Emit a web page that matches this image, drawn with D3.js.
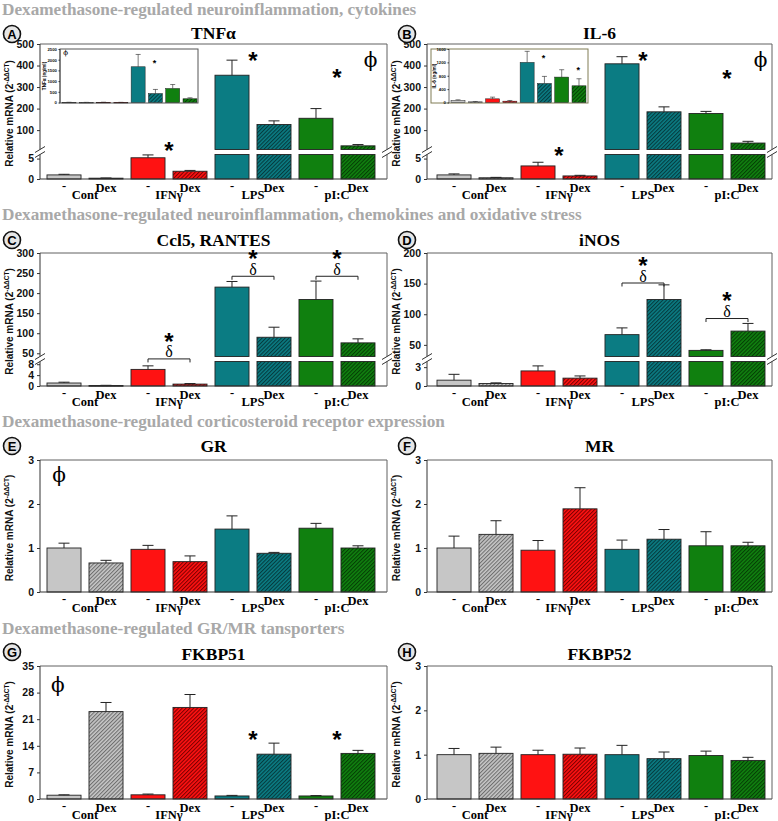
<!DOCTYPE html>
<html>
<head>
<meta charset="utf-8">
<script src="https://cdn.jsdelivr.net/npm/d3@7/dist/d3.min.js"></script>
<style>
  body { margin: 0; background: #fff; }
</style>
</head>
<body>
<svg id="canvas"></svg>
<script>
// ---- data ----
const groups = ["Cont", "IFNγ", "LPS", "pI:C"];
const treatments = ["-", "Dex"];
const groupColors = ["#c6c6c6", "#ff1212", "#0b7c83", "#10800f"];
const hatchColors = ["#6e6e6e", "#7a0000", "#053a3d", "#053f05"];

const sections = [
  "Dexamethasone-regulated neuroinflammation, cytokines",
  "Dexamethasone-regulated neuroinflammation, chemokines and oxidative stress",
  "Dexamethasone-regulated corticosteroid receptor expression",
  "Dexamethasone-regulated GR/MR tansporters"
];

// bar order: Cont -, Cont Dex, IFNγ -, IFNγ Dex, LPS -, LPS Dex, pI:C -, pI:C Dex
const tnfMean = [1.0, 0.2, 5.2, 1.9, 355, 126, 155, 27];
const tnfSem = [0.15, 0.05, 0.7, 0.2, 70, 17, 45, 6];
const il6Mean = [1.0, 0.3, 3.2, 0.75, 408, 185, 177, 40];
const il6Sem = [0.25, 0.1, 0.9, 0.15, 33, 23, 10, 8];
const ccl5Mean = [1.1, 0.2, 6.1, 0.7, 215, 90, 184, 76];
const ccl5Sem = [0.3, 0.05, 1.3, 0.2, 14, 25, 46, 10];
const inosMean = [0.93, 0.4, 2.4, 1.25, 66.7, 124, 41, 72.5];
const inosSem = [0.93, 0.1, 0.8, 0.35, 11, 24, 1, 12.5];
const grMean = [1.0, 0.66, 0.97, 0.69, 1.43, 0.88, 1.45, 1.0];
const grSem = [0.11, 0.06, 0.09, 0.13, 0.3, 0.02, 0.11, 0.05];
const mrMean = [1.0, 1.31, 0.95, 1.89, 0.97, 1.2, 1.05, 1.05];
const mrSem = [0.27, 0.31, 0.22, 0.48, 0.21, 0.22, 0.32, 0.08];
const fkbp51Mean = [1.0, 23, 1.1, 24.1, 0.8, 11.8, 0.8, 12];
const fkbp51Sem = [0.1, 2.4, 0.2, 3.4, 0.15, 2.9, 0.1, 0.8];
const fkbp52Mean = [1.0, 1.03, 1.0, 1.01, 1.0, 0.91, 0.98, 0.87];
const fkbp52Sem = [0.14, 0.14, 0.1, 0.14, 0.21, 0.15, 0.1, 0.07];

// protein insets (ng/ml)
const tnfInsetMean = [8, 5, 10, 6, 1670, 420, 655, 175];
const tnfInsetSem = [3, 2, 4, 2, 575, 190, 185, 45];
const il6InsetMean = [60, 20, 110, 40, 1200, 570, 760, 500];
const il6InsetSem = [20, 10, 50, 20, 330, 210, 220, 210];

// tick values
const cytokineUpperTicks = [100, 200, 300, 400, 500];
const cytokineLowerTicks = [0, 5];
const ccl5UpperTicks = [50, 100, 150, 200, 250, 300];
const ccl5LowerTicks = [0, 4, 8];
const inosUpperTicks = [50, 100, 150, 200];
const inosLowerTicks = [0, 3];
const receptorTicks = [0, 1, 2, 3];
const fkbp51Ticks = [0, 7, 14, 21, 28, 35];
const tnfInsetTicks = [0, 500, 1000, 1500, 2000, 2500];
const il6InsetTicks = [0, 400, 800, 1200, 1600];

// annotations: [bar position, value]
const tnfStars = [[2.5, 29], [4.5, 449], [6.5, 369]];
const il6Stars = [[2.5, 7], [4.5, 449], [6.5, 365]];
const ccl5Brackets = [[2, 3, 36], [4, 5, 242], [6, 7, 242]];
const inosBrackets = [[4, 5, 151], [6, 7, 93]];
const fkbp51Stars = [[4.5, 17.1], [6.5, 17.1]];

// ---- layout ----
const W = 778, H = 821;
const SERIF = "'Liberation Serif', 'Times New Roman', serif";
const SANS = "'Liberation Sans', Arial, sans-serif";
const cols = [
  { left: 40, right: 387, barL: 47, barR: 375, labelX: 13 },
  { left: 427, right: 772, barL: 437, barR: 765, labelX: 400 }
];
const rows = [
  { top: 44, bottom: 179, title: 38.5, circle: 34, section: 14.5 },
  { top: 253, bottom: 386, title: 245.5, circle: 240, section: 219.5 },
  { top: 460, bottom: 592, title: 452, circle: 446, section: 427 },
  { top: 666, bottom: 799, title: 660, circle: 652, section: 633.5 }
];
const lowerH = 24.5, gap = 5;

const panels = [
  { key: "A", title: "TNFα", col: 0, row: 0, mean: tnfMean, sem: tnfSem,
    upper: [10, 500], lower: [0, 6], upperTicks: cytokineUpperTicks, lowerTicks: cytokineLowerTicks,
    stars: tnfStars, phi: [7.3, 416],
    inset: { mean: tnfInsetMean, sem: tnfInsetSem, domain: [0, 2500], ticks: tnfInsetTicks,
             box: [60, 198, 49, 103], axisX: 60, barL: 62, barR: 197, label: "TNFα (ng/ml)", labelX: 46,
             stroke: "#555", stars: [[4.95, 1950]], phi: [-0.2, 2300] } },
  { key: "B", title: "IL-6", col: 1, row: 0, mean: il6Mean, sem: il6Sem,
    upper: [10, 500], lower: [0, 6], upperTicks: cytokineUpperTicks, lowerTicks: cytokineLowerTicks,
    stars: il6Stars, phi: [7.3, 416],
    inset: { mean: il6InsetMean, sem: il6InsetSem, domain: [0, 1600], ticks: il6InsetTicks,
             box: [431, 588, 49, 103], axisX: 449, barL: 451, barR: 586, label: "IL-6 (ng/ml)", labelX: 436,
             stroke: "#807c55", stars: [[4.95, 1380], [6.95, 1030]] } },
  { key: "C", title: "Ccl5, RANTES", col: 0, row: 1, mean: ccl5Mean, sem: ccl5Sem,
    upper: [42, 300], lower: [0, 9], upperTicks: ccl5UpperTicks, lowerTicks: ccl5LowerTicks,
    brackets: ccl5Brackets },
  { key: "D", title: "iNOS", col: 1, row: 1, mean: inosMean, sem: inosSem,
    upper: [31, 200], lower: [0, 3.9], upperTicks: inosUpperTicks, lowerTicks: inosLowerTicks,
    brackets: inosBrackets },
  { key: "E", title: "GR", col: 0, row: 2, mean: grMean, sem: grSem,
    domain: [0, 3], ticks: receptorTicks, phi: [-0.12, 2.61] },
  { key: "F", title: "MR", col: 1, row: 2, mean: mrMean, sem: mrSem,
    domain: [0, 3], ticks: receptorTicks },
  { key: "G", title: "FKBP51", col: 0, row: 3, mean: fkbp51Mean, sem: fkbp51Sem,
    domain: [0, 35], ticks: fkbp51Ticks, stars: fkbp51Stars, phi: [-0.15, 29.5] },
  { key: "H", title: "FKBP52", col: 1, row: 3, mean: fkbp52Mean, sem: fkbp52Sem,
    domain: [0, 3], ticks: receptorTicks }
];

const svg = d3.select("#canvas").attr("width", W).attr("height", H)
  .style("font-family", SANS);
svg.append("rect").attr("width", W).attr("height", H).attr("fill", "#fff");

// hatch patterns for the Dex bars
const defs = svg.append("defs");
groupColors.forEach((c, i) => {
  const s = 2.7;
  const p = defs.append("pattern")
    .attr("id", "hatch" + i)
    .attr("patternUnits", "userSpaceOnUse")
    .attr("width", s).attr("height", s)
    .attr("patternTransform", "rotate(45)");
  p.append("rect").attr("width", s).attr("height", s).attr("fill", c);
  p.append("line").attr("x1", 0.5).attr("x2", 0.5).attr("y1", 0).attr("y2", s)
    .attr("stroke", hatchColors[i]).attr("stroke-width", 1.1);
});
const fillFor = i => i % 2 ? `url(#hatch${Math.floor(i / 2)})` : groupColors[Math.floor(i / 2)];

// section headings
rows.forEach((r, i) => {
  svg.append("text")
    .attr("x", 2).attr("y", r.section)
    .style("font-family", SERIF)
    .attr("font-size", 17.2).attr("font-weight", "bold")
    .attr("fill", "#a8a8a8")
    .text(sections[i]);
});

const star = (g, x, y, size) => g.append("text")
  .attr("x", x).attr("y", y + 0.57 * size)
  .attr("text-anchor", "middle").attr("font-size", size).attr("font-weight", "bold")
  .style("font-family", SANS)
  .text("*");

const phi = (g, x, y, size) => g.append("text")
  .attr("x", x).attr("y", y + 0.26 * size)
  .attr("text-anchor", "middle").attr("font-size", size)
  .style("font-family", "'DejaVu Serif', 'Liberation Serif', serif")
  .text("ϕ");

const styleAxis = (sel, size) => {
  sel.select(".domain").remove();
  sel.selectAll(".tick line").attr("stroke", "#333");
  sel.selectAll(".tick text").attr("font-size", size).attr("font-weight", "bold")
    .attr("font-family", SANS).attr("fill", "#111");
};

const drawInset = (g, ins) => {
  const [bx0, bx1, by0, by1] = ins.box;
  g.append("rect").attr("x", bx0).attr("y", by0).attr("width", bx1 - bx0).attr("height", by1 - by0)
    .attr("fill", "#fff").attr("stroke", ins.stroke).attr("stroke-width", 1);
  const x = d3.scaleBand().domain(d3.range(8)).range([ins.barL, ins.barR]).paddingInner(0.19);
  const y = d3.scaleLinear().domain(ins.domain).range([by1 - 0.5, by0]);
  const cx = i => ins.barL + x.bandwidth() / 2 + i * x.step();
  g.append("line").attr("x1", ins.axisX).attr("x2", ins.axisX).attr("y1", by0).attr("y2", by1)
    .attr("stroke", "#444").attr("stroke-width", 0.8);
  const ax = g.append("g").attr("transform", `translate(${ins.axisX},0)`)
    .call(d3.axisLeft(y).tickValues(ins.ticks).tickFormat(d3.format("d")).tickSize(1.5).tickPadding(1.5));
  styleAxis(ax, 4.3);
  g.append("text")
    .attr("transform", `translate(${ins.labelX},${(by0 + by1) / 2}) rotate(-90)`)
    .attr("text-anchor", "middle").attr("font-size", 4.6).attr("font-weight", "bold")
    .text(ins.label);
  ins.mean.forEach((v, i) => {
    const top = y(v + ins.sem[i]);
    g.append("line").attr("x1", cx(i)).attr("x2", cx(i)).attr("y1", y(v)).attr("y2", top)
      .attr("stroke", "#222").attr("stroke-width", 0.6);
    g.append("line").attr("x1", cx(i) - 2.5).attr("x2", cx(i) + 2.5).attr("y1", top).attr("y2", top)
      .attr("stroke", "#222").attr("stroke-width", 0.6);
    g.append("rect").attr("x", x(i)).attr("y", y(v)).attr("width", x.bandwidth())
      .attr("height", Math.max(0.6, y(0) - y(v)))
      .attr("fill", fillFor(i)).attr("stroke", "#222").attr("stroke-width", 0.5);
  });
  (ins.stars || []).forEach(([i, v]) => star(g, cx(i), y(v), 9));
  if (ins.phi) phi(g, cx(ins.phi[0]), y(ins.phi[1]), 7);
};

panels.forEach(p => {
  const c = cols[p.col], r = rows[p.row];
  const g = svg.append("g");
  const x = d3.scaleBand().domain(d3.range(8)).range([c.barL, c.barR]).paddingInner(0.19).paddingOuter(0);
  const bw = x.bandwidth();
  const cx = i => c.barL + bw / 2 + i * x.step();

  const broken = !!p.upper;
  let yL, yU = null;
  if (broken) {
    yL = d3.scaleLinear().domain(p.lower).range([r.bottom, r.bottom - lowerH]);
    yU = d3.scaleLinear().domain(p.upper).range([r.bottom - lowerH - gap, r.top]);
  } else {
    yL = d3.scaleLinear().domain(p.domain).range([r.bottom, r.top]);
  }
  const lowMax = yL.domain()[1];
  const yAt = v => (broken && v > lowMax) ? yU(v) : yL(v);
  const yAnn = yU || yL;

  // bars
  p.mean.forEach((v, i) => {
    const fill = fillFor(i);
    const lowTop = yL(Math.min(v, lowMax));
    g.append("rect").attr("x", x(i)).attr("y", lowTop).attr("width", bw)
      .attr("height", Math.max(0.8, r.bottom - lowTop))
      .attr("fill", fill).attr("stroke", "#222").attr("stroke-width", 0.9);
    if (broken && v > p.upper[0]) {
      const base = yU(p.upper[0]);
      g.append("rect").attr("x", x(i)).attr("y", yU(v)).attr("width", bw)
        .attr("height", base - yU(v))
        .attr("fill", fill).attr("stroke", "#222").attr("stroke-width", 0.9);
    }
    // upper error whisker
    const topY = yAt(v + p.sem[i]);
    const barY = yAt(v);
    g.append("line").attr("x1", cx(i)).attr("x2", cx(i)).attr("y1", barY).attr("y2", topY)
      .attr("stroke", "#222").attr("stroke-width", 1);
    g.append("line").attr("x1", cx(i) - 5.5).attr("x2", cx(i) + 5.5).attr("y1", topY).attr("y2", topY)
      .attr("stroke", "#222").attr("stroke-width", 1);
  });

  // frame
  const frame = "#606060";
  const seg = (x1, y1, x2, y2, col = frame) => g.append("line")
    .attr("x1", x1).attr("y1", y1).attr("x2", x2).attr("y2", y2)
    .attr("stroke", col).attr("stroke-width", 1);
  seg(c.left, r.top, c.right, r.top);
  seg(c.left, r.bottom, c.right, r.bottom, "#333");
  const fmt = d3.format("d");
  if (broken) {
    const ub = yU.range()[0], lb = yL.range()[1];
    [c.left, c.right].forEach((xx, k) => {
      seg(xx, r.top, xx, ub, k ? frame : "#333");
      seg(xx, lb, xx, r.bottom, k ? frame : "#333");
      g.append("rect").attr("x", xx - 6).attr("y", ub + 0.5).attr("width", 12).attr("height", lb - ub - 1)
        .attr("fill", "#fff");
      [ub, lb].forEach(yy => seg(xx - 5, yy + 3, xx + 5, yy - 3, "#333"));
    });
    const au = g.append("g").attr("transform", `translate(${c.left},0)`)
      .call(d3.axisLeft(yU).tickValues(p.upperTicks).tickFormat(fmt).tickSize(3).tickPadding(3));
    styleAxis(au, 10.5);
    const al = g.append("g").attr("transform", `translate(${c.left},0)`)
      .call(d3.axisLeft(yL).tickValues(p.lowerTicks).tickFormat(fmt).tickSize(3).tickPadding(3));
    styleAxis(al, 10.5);
  } else {
    seg(c.left, r.top, c.left, r.bottom, "#333");
    seg(c.right, r.top, c.right, r.bottom);
    const a = g.append("g").attr("transform", `translate(${c.left},0)`)
      .call(d3.axisLeft(yL).tickValues(p.ticks).tickFormat(fmt).tickSize(3).tickPadding(3));
    styleAxis(a, 10.5);
  }

  // y axis title
  const yt = g.append("text")
    .attr("transform", `translate(${c.labelX},${(r.top + r.bottom) / 2 + 2}) rotate(-90)`)
    .attr("text-anchor", "middle").attr("font-size", 10).attr("font-weight", "bold").attr("fill", "#111");
  yt.append("tspan").text("Relative mRNA (2");
  yt.append("tspan").attr("font-size", 6.5).attr("dy", -4).text("-ΔΔCT");
  yt.append("tspan").attr("dy", 4).text(")");

  // x labels
  p.mean.forEach((v, i) => {
    g.append("text")
      .attr("x", cx(i)).attr("y", r.bottom + (i % 2 ? 12.5 : 11))
      .style("font-family", SERIF)
      .attr("text-anchor", "middle").attr("font-size", 12.5).attr("font-weight", "bold")
      .text(treatments[i % 2]);
  });
  groups.forEach((gr, k) => {
    g.append("text")
      .attr("x", cx(2 * k + 0.5)).attr("y", r.bottom + 19.5)
      .style("font-family", SERIF)
      .attr("text-anchor", "middle").attr("font-size", 12.5).attr("font-weight", "bold")
      .text(gr);
  });

  // title + panel letter
  g.append("text")
    .attr("x", (c.left + c.right) / 2).attr("y", r.title)
    .style("font-family", SERIF)
    .attr("text-anchor", "middle").attr("font-size", 17.5).attr("font-weight", "bold")
    .text(p.title);
  const lx = p.col ? 407 : 12;
  g.append("circle").attr("cx", lx).attr("cy", r.circle).attr("r", 8.5)
    .attr("fill", "#e6e6e6").attr("stroke", "#111").attr("stroke-width", 1.6);
  g.append("text").attr("x", lx).attr("y", r.circle + 4.6)
    .attr("text-anchor", "middle").attr("font-size", 13).attr("font-weight", "bold")
    .text(p.key);

  // annotations
  (p.stars || []).forEach(([i, v]) => star(g, cx(i), yAnn(v), 24));
  if (p.phi) phi(g, cx(p.phi[0]), yAnn(p.phi[1]), 20);
  (p.brackets || []).forEach(([i, j, v]) => {
    const yy = yAnn(v);
    g.append("path")
      .attr("d", `M${cx(i)},${yy + 3.5}V${yy}H${cx(j)}V${yy + 3.5}`)
      .attr("fill", "none").attr("stroke", "#222").attr("stroke-width", 1);
    const mid = (cx(i) + cx(j)) / 2;
    g.append("text")
      .attr("x", mid).attr("y", yy - 1.5)
      .style("font-family", SERIF)
      .attr("text-anchor", "middle").attr("font-size", 16)
      .text("δ");
    star(g, mid, yy - 23, 24);
  });

  if (p.inset) drawInset(g, p.inset);
});
</script>
</body>
</html>
